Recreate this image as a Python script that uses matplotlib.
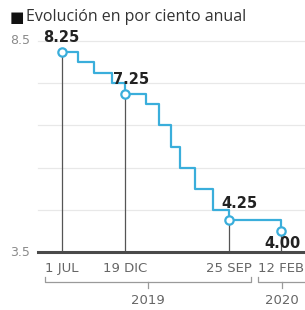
import matplotlib
matplotlib.use("Agg")
import matplotlib.pyplot as plt
import matplotlib.dates as mdates
from matplotlib import font_manager
from datetime import date

# rate decisions (date, rate in %)
change_dates = [date(2019, 7, 1), date(2019, 8, 15), date(2019, 9, 26), date(2019, 11, 14),
                date(2019, 12, 19), date(2020, 2, 13), date(2020, 3, 20), date(2020, 4, 21),
                date(2020, 5, 14), date(2020, 6, 25), date(2020, 8, 13), date(2020, 9, 25),
                date(2021, 2, 12)]
rates = [8.25, 8.0, 7.75, 7.5, 7.25, 7.0, 6.5, 6.0, 5.5, 5.0, 4.5, 4.25, 4.0]

# highlighted points
mark_dates = [date(2019, 7, 1), date(2019, 12, 19), date(2020, 9, 25), date(2021, 2, 12)]
mark_rates = [8.25, 7.25, 4.25, 4.00]
mark_labels = ["8.25", "7.25", "4.25", "4.00"]
tick_labels = ["1 JUL", "19 DIC", "25 SEP", "12 FEB"]
years = ["2019", "2020"]

blue = "#3aaedb"

# use a narrow face for the small labels if there is one
narrow = ["DejaVu Sans"]
for fam in ["Liberation Sans Narrow", "DejaVu Sans Condensed"]:
    try:
        font_manager.findfont(fam, fallback_to_default=False)
        narrow = [fam, "DejaVu Sans"]
        break
    except Exception:
        pass

fig = plt.figure(figsize=(3.05, 3.10), dpi=100)
ax = fig.add_axes([38 / 305, 1 - 252 / 310, 267 / 305, 211 / 310])

x = mdates.date2num(change_dates)
xm = mdates.date2num(mark_dates)

ax.set_xlim(mdates.date2num(date(2019, 4, 28)), mdates.date2num(date(2021, 4, 17)))
ax.set_ylim(3.5, 8.5)

for g in [4.5, 5.5, 6.5, 7.5, 8.5]:
    ax.axhline(g, color="#e8e8e8", lw=0.9, zorder=0, clip_on=False)

ax.vlines(xm, 3.5, mark_rates, color="#555555", lw=0.9, zorder=1)
ax.step(x, rates, where="post", color=blue, lw=1.6, zorder=2)
ax.plot(xm, mark_rates, "o", ms=6, mfc="white", mec=blue, mew=1.6, zorder=3)
ax.axhline(3.5, color="#4a4a4a", lw=2.2, zorder=4, clip_on=False)

# value labels
offsets = [(0, 10), (4, 10), (7, 12), (1, -9)]
for xi, yi, lab, (dx, dy) in zip(xm, mark_rates, mark_labels, offsets):
    ax.annotate(lab, (xi, yi), xytext=(dx, dy), textcoords="offset points",
                ha="center", va="center", fontsize=10.5, fontweight="bold",
                color="#222222", zorder=5)

for s in ax.spines.values():
    s.set_visible(False)
ax.set_yticks([])
ax.set_xticks([])

# y labels
for v in [8.5, 3.5]:
    ax.text(-0.03, (v - 3.5) / 5, f"{v}", transform=ax.transAxes, ha="right",
            va="center", fontsize=9, color="#8a8a8a", family=narrow)

# date labels
for xi, lab in zip(xm, tick_labels):
    ax.annotate(lab, (xi, 3.5), xytext=(0, -12), textcoords="offset points",
                ha="center", va="center", fontsize=9.5, color="#666666", family=narrow)

# year brackets (figure pixel coordinates)
def bracket(x0, x1, xc, label):
    yb = 1 - 282 / 310
    yt = 1 - 277 / 310
    ys = 1 - 288 / 310
    fx = lambda p: p / 305
    fig.add_artist(plt.Line2D([fx(x0), fx(x0), fx(x1), fx(x1)], [yt, yb, yb, yt],
                              color="#9a9a9a", lw=0.9))
    fig.add_artist(plt.Line2D([fx(xc), fx(xc)], [yb, ys], color="#9a9a9a", lw=0.9))
    fig.text(fx(xc), 1 - 300 / 310, label, ha="center", va="center", fontsize=9.5,
             color="#666666", family=narrow)

bracket(45, 251, 148, years[0])
bracket(258, 312, 282, years[1])

# title
fig.text(10 / 305, 1 - 17 / 310, "\u25A0", ha="left", va="center", fontsize=11, color="#111111")
fig.text(26 / 305, 1 - 17 / 310, "Evolución en por ciento anual", ha="left", va="center",
         fontsize=11.5, color="#333333", family=["Open Sans", "DejaVu Sans"])

fig.savefig("out.png", dpi=100)
